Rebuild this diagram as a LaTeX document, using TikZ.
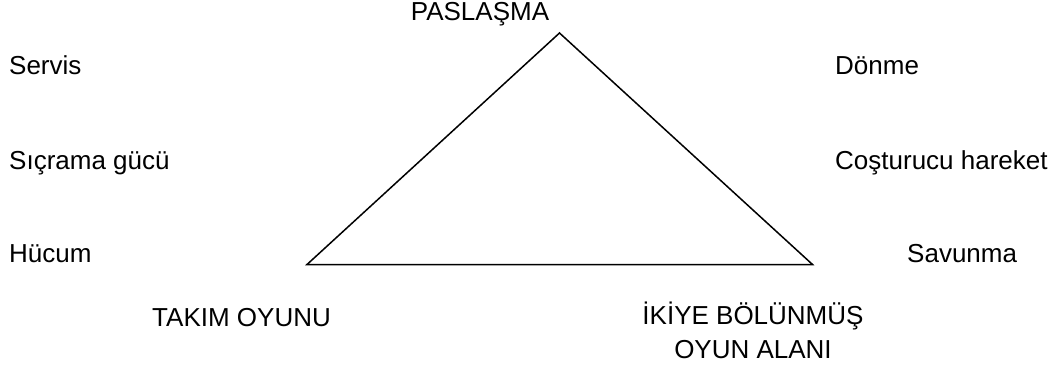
\documentclass[tikz,border=0pt]{standalone}
\usepackage{fontspec}
\setmainfont{Liberation Sans}
\begin{document}
\begin{tikzpicture}[x=1pt,y=-1pt,
  lbl/.style={inner sep=0pt,anchor=base west,font=\fontsize{26}{34}\selectfont},
  edge/.style={line width=1.5pt,line join=miter}]
\useasboundingbox (0,0) rectangle (1059,367);
\coordinate (top) at (559.5,33);
\coordinate (bl) at (307,264.5);
\coordinate (br) at (812.5,264.5);
\draw[edge] (top) -- (bl) -- (br) -- cycle;
\node[lbl,anchor=base] (pas) at (480,20.7) {PASLAŞMA};
\node[lbl] (servis) at (9,74) {Servis};
\node[lbl] (sicrama) at (9,169) {Sıçrama gücü};
\node[lbl] (hucum) at (9,262.5) {Hücum};
\node[lbl] (donme) at (835,74) {Dönme};
\node[lbl] (cos) at (835,169) {Coşturucu hareket};
\node[lbl] (savunma) at (907,262.5) {Savunma};
\node[lbl] (takim) at (152,326) {TAKIM OYUNU};
\node[lbl,anchor=base,align=center] (ikiye) at (753,358.3) {İKİYE BÖLÜNMÜŞ\\OYUN ALANI};
\end{tikzpicture}
\end{document}
